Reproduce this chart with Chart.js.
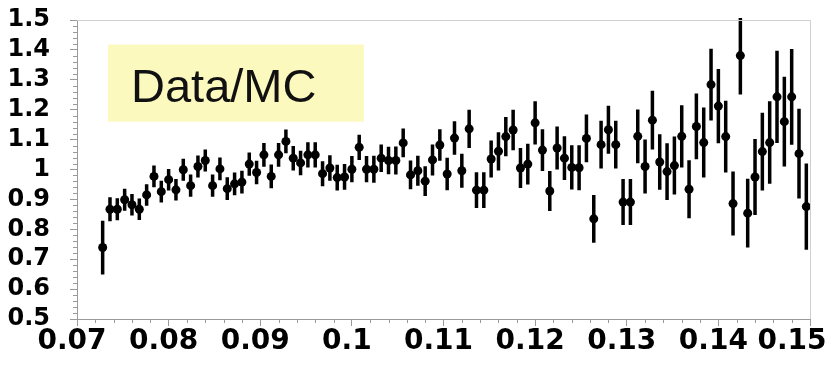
<!DOCTYPE html>
<html>
<head>
<meta charset="utf-8">
<script src="https://cdn.jsdelivr.net/npm/chart.js@4.4.1/dist/chart.umd.min.js"></script>
<style>
  html, body { margin: 0; padding: 0; background: #fff; }
  #wrap { width: 840px; height: 365px; }
</style>
</head>
<body>
<div id="wrap"><canvas id="ratioChart"></canvas></div>
<script>
// bin centres (bin width 0.0008)
const binCenters = [
  0.0728, 0.0736, 0.0744, 0.0752, 0.0760, 0.0768, 0.0776, 0.0784, 0.0792, 0.0800,
  0.0808, 0.0816, 0.0824, 0.0832, 0.0840, 0.0848, 0.0856, 0.0864, 0.0872, 0.0880,
  0.0888, 0.0896, 0.0904, 0.0912, 0.0920, 0.0928, 0.0936, 0.0944, 0.0952, 0.0960,
  0.0968, 0.0976, 0.0984, 0.0992, 0.1000, 0.1008, 0.1016, 0.1024, 0.1032, 0.1040,
  0.1048, 0.1056, 0.1064, 0.1072, 0.1080, 0.1088, 0.1096, 0.1104, 0.1112, 0.1120,
  0.1128, 0.1136, 0.1144, 0.1152, 0.1160, 0.1168, 0.1176, 0.1184, 0.1192, 0.1200,
  0.1208, 0.1216, 0.1224, 0.1232, 0.1240, 0.1248, 0.1256, 0.1264, 0.1272, 0.1280,
  0.1288, 0.1296, 0.1304, 0.1312, 0.1320, 0.1328, 0.1336, 0.1344, 0.1352, 0.1360,
  0.1368, 0.1376, 0.1384, 0.1392, 0.1400, 0.1408, 0.1416, 0.1424, 0.1432, 0.1440,
  0.1448, 0.1456, 0.1464, 0.1472, 0.1480, 0.1488, 0.1496
];
const binHalfWidth = 0.0004;

const ratioValues = [
  0.739, 0.867, 0.867, 0.899, 0.882, 0.867, 0.915, 0.977, 0.926, 0.966,
  0.932, 0.999, 0.946, 1.010, 1.030, 0.946, 1.002, 0.936, 0.952, 0.958,
  1.018, 0.990, 1.049, 0.977, 1.049, 1.094, 1.038, 1.022, 1.049, 1.049,
  0.986, 1.005, 0.973, 0.975, 1.001, 1.074, 1.001, 1.001, 1.038, 1.030,
  1.030, 1.089, 0.982, 0.996, 0.961, 1.032, 1.082, 0.985, 1.105, 0.996,
  1.136, 0.931, 0.931, 1.035, 1.061, 1.110, 1.132, 1.005, 1.018, 1.156,
  1.065, 0.928, 1.072, 1.038, 1.007, 1.006, 1.104, 0.835, 1.083, 1.133,
  1.083, 0.891, 0.891, 1.111, 1.010, 1.165, 1.025, 0.993, 1.013, 1.111,
  0.934, 1.144, 1.090, 1.284, 1.212, 1.110, 0.886, 1.381, 0.854, 0.975,
  1.060, 1.090, 1.243, 1.160, 1.243, 1.053, 0.876
];

const ratioErrors = [
  0.090, 0.040, 0.037, 0.037, 0.036, 0.036, 0.036, 0.036, 0.036, 0.036,
  0.036, 0.037, 0.037, 0.037, 0.037, 0.037, 0.038, 0.038, 0.038, 0.038,
  0.039, 0.039, 0.040, 0.040, 0.040, 0.040, 0.041, 0.041, 0.042, 0.042,
  0.042, 0.043, 0.043, 0.043, 0.044, 0.042, 0.044, 0.045, 0.046, 0.046,
  0.047, 0.048, 0.048, 0.050, 0.050, 0.052, 0.053, 0.054, 0.056, 0.057,
  0.064, 0.060, 0.060, 0.062, 0.064, 0.066, 0.068, 0.067, 0.068, 0.072,
  0.070, 0.067, 0.072, 0.073, 0.074, 0.075, 0.080, 0.080, 0.080, 0.080,
  0.080, 0.077, 0.077, 0.090, 0.090, 0.098, 0.093, 0.095, 0.097, 0.104,
  0.097, 0.110, 0.117, 0.120, 0.124, 0.120, 0.107, 0.130, 0.115, 0.127,
  0.130, 0.138, 0.154, 0.150, 0.160, 0.150, 0.144
];

const xTicks = [0.07, 0.08, 0.09, 0.10, 0.11, 0.12, 0.13, 0.14, 0.15];
const yTicks = [0.5, 0.6, 0.7, 0.8, 0.9, 1.0, 1.1, 1.2, 1.3, 1.4, 1.5];

const fmt = v => String(parseFloat(Number(v).toFixed(3)));
const axisGrey = '#9a9a9a';

/* error bars: vertical stat error, horizontal half bin */
const errorBars = {
  id: 'errorBars',
  beforeDatasetsDraw(chart) {
    const { ctx, chartArea: a, scales: { x, y } } = chart;
    ctx.save();
    ctx.beginPath();
    ctx.rect(a.left, a.top - 2, a.right - a.left, a.bottom - a.top + 2);
    ctx.clip();
    ctx.strokeStyle = '#000';
    ctx.lineWidth = 3.5;
    binCenters.forEach((c, i) => {
      const px = x.getPixelForValue(c);
      const py = y.getPixelForValue(ratioValues[i]);
      ctx.beginPath();
      ctx.moveTo(px, y.getPixelForValue(ratioValues[i] - ratioErrors[i]));
      ctx.lineTo(px, y.getPixelForValue(ratioValues[i] + ratioErrors[i]));
      ctx.moveTo(x.getPixelForValue(c - binHalfWidth), py);
      ctx.lineTo(x.getPixelForValue(c + binHalfWidth), py);
      ctx.stroke();
    });
    ctx.restore();
  }
};

/* pale yellow label box, placed in chart-area fractions */
const labelBox = {
  id: 'labelBox',
  beforeDatasetsDraw(chart) {
    const { ctx, chartArea: a } = chart;
    const w = a.right - a.left, h = a.bottom - a.top;
    const bx = a.left + 0.0423 * w, by = a.top + 0.082 * h;
    const bw = 0.349 * w, bh = 0.258 * h;
    ctx.save();
    ctx.fillStyle = '#fcf9bf';
    ctx.fillRect(bx, by, bw, bh);
    ctx.fillStyle = '#111';
    ctx.font = '47px "Liberation Sans", Arial, sans-serif';
    ctx.textBaseline = 'alphabetic';
    ctx.fillText('Data/MC', bx + 23, by + 57);
    ctx.restore();
  }
};

/* pull the last x label back inside the canvas */
const lastLabelNudge = {
  id: 'lastLabelNudge',
  beforeDraw(chart) {
    const items = chart.scales.x.getLabelItems(chart.chartArea);
    const last = items[items.length - 1];
    if (last && !last._nudged) {
      last.options.translation[0] -= 13;
      last._nudged = true;
    }
  }
};

/* frame on top/right and the short secondary ticks */
const frameTicks = {
  id: 'frameTicks',
  afterDraw(chart) {
    const { ctx, chartArea: a, scales: { x, y } } = chart;
    ctx.save();
    ctx.lineWidth = 1;
    ctx.strokeStyle = '#cfcfcf';
    ctx.beginPath();
    ctx.moveTo(a.left, a.top + 0.5);
    ctx.lineTo(a.right + 0.5, a.top + 0.5);
    ctx.lineTo(a.right + 0.5, a.bottom);
    ctx.stroke();

    ctx.strokeStyle = axisGrey;
    ctx.beginPath();
    for (let i = 0; i < xTicks.length - 1; i++) {
      const step = (xTicks[i + 1] - xTicks[i]) / 5;
      for (let j = 1; j < 5; j++) {
        const px = Math.round(x.getPixelForValue(xTicks[i] + j * step)) + 0.5;
        ctx.moveTo(px, a.bottom);
        ctx.lineTo(px, a.bottom + 4);
      }
    }
    for (let i = 0; i < yTicks.length - 1; i++) {
      const step = (yTicks[i + 1] - yTicks[i]) / 5;
      for (let j = 1; j < 5; j++) {
        const py = Math.round(y.getPixelForValue(yTicks[i] + j * step)) + 0.5;
        ctx.moveTo(a.left - 4, py);
        ctx.lineTo(a.left, py);
      }
    }
    ctx.stroke();
    ctx.restore();
  }
};

new Chart(document.getElementById('ratioChart').getContext('2d'), {
  type: 'scatter',
  data: {
    datasets: [{
      data: binCenters.map((c, i) => ({ x: c, y: ratioValues[i] })),
      backgroundColor: '#000',
      borderWidth: 0,
      pointRadius: 4.5,
      pointHoverRadius: 4.5
    }]
  },
  options: {
    responsive: true,
    maintainAspectRatio: false,
    animation: false,
    layout: { padding: { left: 0, right: 30, top: 20, bottom: 0 } },
    plugins: {
      legend: { display: false },
      tooltip: { enabled: false }
    },
    scales: {
      x: {
        type: 'linear',
        min: 0.07,
        max: 0.15,
        afterBuildTicks: s => { s.ticks = xTicks.map(v => ({ value: v })); },
        afterFit: s => { s.paddingLeft = 0; s.paddingRight = 0; s.height = 46; },
        grid: { drawOnChartArea: false, tickLength: 7, tickColor: axisGrey },
        border: { color: axisGrey, width: 1 },
        ticks: {
          autoSkip: false,
          maxRotation: 0,
          padding: -1,
          labelOffset: -5,
          color: '#000',
          font: { family: 'DejaVu Sans', weight: 'bold', size: 28 },
          callback: v => fmt(v)
        }
      },
      y: {
        min: 0.5,
        max: 1.5,
        afterBuildTicks: s => { s.ticks = yTicks.map(v => ({ value: v })); },
        afterFit: s => { s.paddingTop = 0; s.paddingBottom = 0; s.width = 77; },
        grid: { drawOnChartArea: false, tickLength: 7, tickColor: axisGrey },
        border: { color: axisGrey, width: 1 },
        ticks: {
          autoSkip: false,
          padding: 20,
          color: '#000',
          font: { family: 'DejaVu Sans', weight: 'bold', size: 24 },
          callback: v => fmt(v)
        }
      }
    }
  },
  plugins: [lastLabelNudge, labelBox, errorBars, frameTicks]
});
</script>
</body>
</html>
